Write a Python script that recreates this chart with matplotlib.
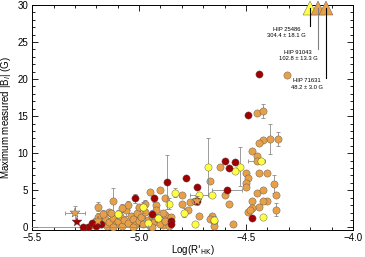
import matplotlib
matplotlib.use("Agg")
import matplotlib.pyplot as plt
from matplotlib.ticker import MultipleLocator

plt.rcParams['font.family'] = ['Liberation Sans', 'DejaVu Sans']

# ---- data ----
red_x = [-4.44, -4.49, -4.60, -4.55, -4.58, -4.78, -4.87, -4.73, -5.02, -4.93,
         -4.94, -4.73, -4.85, -4.85, -4.47, -4.59, -5.24, -5.22, -5.26, -5.20, -5.18]
red_y = [20.7, 15.2, 8.9, 8.8, 8.0, 6.6, 6.1, 5.5, 3.9, 3.9,
         1.8, 3.6, 0.9, 0.5, 1.3, 5.1, 0.07, 0.6, 0.0, 0.2, 0.4]
red_yerr = [0, 0, 0, 0, 0, 0, 3.6, 0, 0.6, 0.5,
            0.5, 0.6, 0.4, 0.4, 0, 0.3, 0, 0.3, 0, 0, 0]
red_xerr = [0, 0, 0, 0, 0, 0, 0, 0, 0, 0,
            0, 0, 0, 0, 0, 0.07, 0, 0, 0.3, 0, 0]

yel_x = [-4.53, -4.43, -4.55, -4.68, -4.83, -4.72, -4.66, -4.86, -4.79, -4.74,
         -4.42, -4.65, -5.10, -4.98, -4.96, -4.91, -5.19]
yel_y = [8.2, 8.9, 7.6, 8.2, 4.7, 4.4, 4.4, 3.2, 2.0, 0.5,
         1.4, 1.0, 1.8, 2.7, 0.6, 1.3, 0.7]
yel_yerr = [2.6, 0, 0, 3.8, 0.6, 0, 0, 0.7, 0.6, 0,
            0, 0.5, 0.6, 0.7, 0.4, 0.5, 0.4]
yel_xerr = [0, 0, 0, 0, 0, 0.04, 0, 0, 0, 0,
            0, 0, 0, 0, 0, 0, 0]

org_x = [-4.31, -4.45, -4.42, -4.35, -4.39, -4.42, -4.44, -4.47, -4.45, -4.45,
         -4.62, -4.50, -4.44, -4.40, -4.49, -4.67, -4.90, -4.95, -4.80, -4.88,
         -4.76, -4.80, -4.77, -4.88, -4.72, -4.66, -4.87, -4.67, -4.65, -4.89,
         -4.50, -4.50, -4.45, -4.37, -4.42, -4.36, -4.36, -4.40, -4.42, -4.44,
         -4.49, -4.47, -4.60, -4.58, -4.47, -4.48, -4.56, -4.65, -4.74, -5.12,
         -5.14, -5.19, -4.92,
         -5.22, -5.20, -5.19, -5.18, -5.16, -5.15, -5.14, -5.12, -5.11, -5.10,
         -5.09, -5.08, -5.07, -5.06, -5.05, -5.04, -5.03, -5.02, -5.01, -5.00,
         -4.99, -4.98, -4.97, -4.96, -4.95, -4.94, -4.93, -4.92, -4.91, -4.90,
         -4.89, -4.88, -4.86, -4.85, -5.05, -5.00, -5.08, -4.97, -5.12, -5.03,
         -4.94, -5.17, -5.13]
org_y = [20.5, 15.4, 15.7, 11.9, 11.9, 11.8, 11.4, 10.3, 9.6, 9.0,
         8.1, 7.4, 7.3, 7.3, 6.6, 6.3, 5.0, 4.8, 4.4, 4.0,
         3.4, 3.1, 2.4, 1.7, 1.6, 1.5, 0.8, 1.1, 0.8, 0.35,
         6.0, 5.5, 4.6, 5.8, 5.1, 4.4, 2.4, 3.5, 3.5, 2.8,
         2.1, 3.5, 4.4, 3.1, 2.6, 2.3, 0.5, 0.2, 3.6, 3.6,
         2.1, 2.8, 3.0,
         0.3, 0.9, 1.4, 0.5, 1.1, 0.2, 0.7, 1.3, 0.4, 0.9,
         1.6, 0.2, 1.0, 2.3, 0.6, 1.5, 1.1, 0.3, 2.0, 0.8,
         1.4, 0.4, 2.1, 1.0, 0.2, 1.6, 0.7, 2.4, 1.2, 0.4,
         1.9, 0.9, 0.2, 1.4, 3.0, 2.7, 2.6, 3.1, 0.0, 0.0,
         0.0, 1.8, 2.0]
org_yerr = [0, 0, 1.0, 0.9, 2.0, 0, 0, 0, 0, 0,
            0, 0, 0, 0, 0, 0, 0, 0, 0, 0,
            0, 0, 0, 0, 0, 0, 0, 0, 0, 0,
            0, 0, 0, 1.2, 0, 0, 0.9, 0, 0, 0,
            0, 0, 0, 0, 0, 0, 0, 0, 0, 1.7,
            0, 0.6, 0,
            0.4, 0, 0.5, 0, 0.3, 0, 0.6, 0, 0.3, 0,
            0.5, 0, 0.4, 0.7, 0, 0.5, 0, 0.3, 0.6, 0,
            0.4, 0, 0.8, 0, 0, 0.6, 0, 0.7, 0.4, 0,
            0.5, 0, 0, 0.4, 0.6, 0.5, 0.5, 0.6, 0, 0,
            0, 0.5, 0.4]
org_xerr = [0] * 9 + [0.04] + [0] * (len(org_x) - 10)

star_org_x = [-5.30, -4.73, -5.19]
star_org_y = [1.9, 3.6, 0.9]
star_org_xerr = [0.045, 0, 0]
star_org_yerr = [1.0, 0, 0]
star_red_x = [-5.29]
star_red_y = [0.75]

tri_x = [-4.20, -4.163, -4.126]
tri_y = [29.6, 29.6, 29.6]
tri_colors = ['#ffff40', '#e8a048', '#e8a048']
tri_labels = ['HIP 25486\n304.4 ± 18.1 G', 'HIP 91043\n102.8 ± 13.3 G', 'HIP 71631\n48.2 ± 3.0 G']
line_bottom = [27.1, 24.0, 20.2]
label_right = [-4.22, -4.165, -4.14]

RED = '#a00000'
ORG = '#e8a048'
YEL = '#ffff40'
ERRC = '#8c8c8c'

fig = plt.figure(figsize=(3.65, 2.57), dpi=100)
ax = fig.add_axes([0.088, 0.105, 0.879, 0.876])

def draw(xs, ys, xe, ye, color, marker='o', ms=5.2, z=3):
    ax.errorbar(xs, ys, xerr=xe, yerr=ye, fmt='none', ecolor=ERRC,
                elinewidth=0.6, capsize=1.3, capthick=0.6, zorder=z - 1)
    ax.plot(xs, ys, linestyle='none', marker=marker, ms=ms, mfc=color,
            mec='#555555', mew=0.3, zorder=z)

draw(org_x, org_y, org_xerr, org_yerr, ORG)
draw(yel_x, yel_y, yel_xerr, yel_yerr, YEL, z=4)
draw(red_x, red_y, red_xerr, red_yerr, RED, z=5)
draw(star_red_x, star_red_y, None, None, RED, marker='*', ms=7, z=6)
draw(star_org_x, star_org_y, star_org_xerr, star_org_yerr, ORG, marker='*', ms=7, z=6)

line_cols = ['black', '#808080', 'black']
for i in range(3):
    ax.plot([tri_x[i], tri_x[i]], [tri_y[i], line_bottom[i]], color=line_cols[i],
            lw=0.8, zorder=7, clip_on=False)
    ax.plot([tri_x[i]], [tri_y[i]], marker='^', ms=10, mfc=tri_colors[i],
            mec='#555555', mew=0.3, linestyle='none', zorder=6, clip_on=False)
    ax.text(label_right[i], line_bottom[i] - 0.1, tri_labels[i], ha='right', va='top',
            multialignment='center', fontsize=4.2, zorder=8, linespacing=1.3)

ax.set_xlim(-5.5, -4.0)
ax.set_ylim(-0.35, 30)
ax.xaxis.set_major_locator(MultipleLocator(0.5))
ax.xaxis.set_minor_locator(MultipleLocator(0.1))
ax.yaxis.set_major_locator(MultipleLocator(5))
ax.yaxis.set_minor_locator(MultipleLocator(1))
ax.tick_params(which='both', direction='in', top=True, right=True, labelsize=7,
               width=0.6)
ax.tick_params(axis='x', which='both', pad=2)
ax.tick_params(axis='y', which='both', pad=3)
ax.tick_params(which='major', length=4.5)
ax.tick_params(which='minor', length=2.2)
for s in ax.spines.values():
    s.set_linewidth(0.7)
ax.set_xlabel("Log(R$'_{\\rm HK}$)", fontsize=7, labelpad=0)
ax.set_ylabel("Maximum measured |B$_l$| (G)", fontsize=7, labelpad=3)

fig.savefig('out.png', dpi=100)
